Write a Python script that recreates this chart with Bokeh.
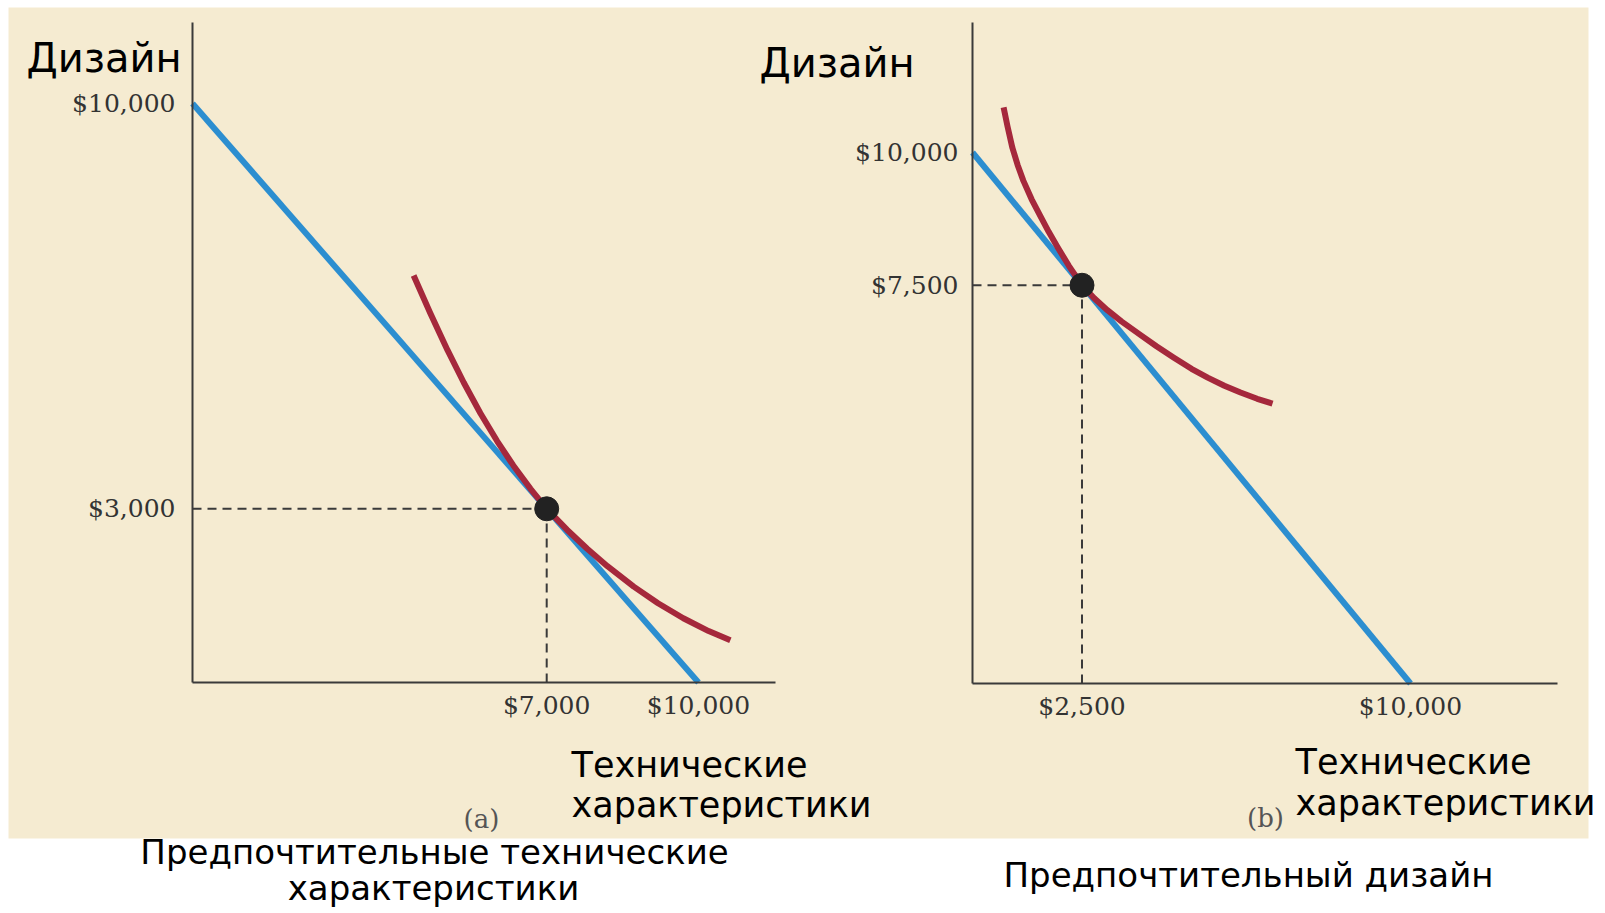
from bokeh.plotting import figure
from bokeh.models import (Range1d, FixedTicker, NumeralTickFormatter, Label,
                          LinearAxis, BoxAnnotation)
from bokeh.embed import file_html
from bokeh.resources import INLINE

# ---------------- data ----------------
# panel (a): preferred technical characteristics
budget_a_x = [0, 10000]
budget_a_y = [10000, 0]
curve_a_x = [4370, 4700, 5040, 5360, 5690, 6020, 6340, 6680, 7000, 7400, 7800,
             8200, 8720, 9200, 9700, 10200, 10630]
curve_a_y = [7030, 6378, 5740, 5181, 4651, 4170, 3749, 3345, 3000, 2639, 2310,
             2008, 1656, 1369, 1109, 888, 728]
opt_a_x = [7000]
opt_a_y = [3000]
xticks_a = [7000, 10000]
yticks_a = [3000, 10000]

# panel (b): preferred design
budget_b_x = [0, 10000]
budget_b_y = [10000, 0]
curve_b_x = [710, 800, 910, 1030, 1160, 1350, 1550, 1740, 1940, 2200, 2500, 2780,
             3080, 3400, 3840, 4200, 4590, 5000, 5370, 5750, 6120, 6500, 6850]
curve_b_y = [10850, 10490, 10090, 9766, 9470, 9118, 8800, 8506, 8220, 7866, 7500, 7254,
             7030, 6819, 6560, 6351, 6140, 5927, 5760, 5608, 5480, 5362, 5270]
opt_b_x = [2500]
opt_b_y = [7500]
xticks_b = [2500, 10000]
yticks_b = [7500, 10000]

y_title = "Дизайн"
x_title = ["Технические", "характеристики"]
panel_tags = ["(a)", "(b)"]
caption_a = ["Предпочтительные технические", "характеристики"]
caption_b = "Предпочтительный дизайн"

# ---------------- style / layout ----------------
W, H = 1600, 908
CREAM = "#f5ebd1"
BLUE = "#2c8ed0"
RED = "#a5283c"
AXIS = "#3a3a3a"
TICK = "#333333"
DOT = "#222222"
SANS = "DejaVu Sans"
SERIF = "DejaVu Serif"

# panel geometry in page pixels: axis origin, axis ends, pixels per dollar
A = dict(ox=192, oy=682, xe=775, ye=22, sx=0.0506, sy=0.0579)
B = dict(ox=972, oy=683, xe=1557, ye=22, sx=0.0438, sy=0.0531)


def xr(g):
    return Range1d(-g["ox"] / g["sx"], (W - g["ox"]) / g["sx"])


def yr(g):
    return Range1d(-(H - g["oy"]) / g["sy"], g["oy"] / g["sy"])


p = figure(width=W, height=H, x_range=xr(A), y_range=yr(A),
           output_backend="svg", toolbar_location=None,
           x_axis_type=None, y_axis_type=None, min_border=0)
p.extra_x_ranges = {"b": xr(B), "px": Range1d(0, W)}
p.extra_y_ranges = {"b": yr(B), "px": Range1d(H, 0)}
p.outline_line_color = None
p.grid.visible = False
p.background_fill_color = "white"
p.border_fill_color = "white"

# cream page of the scanned figure
p.add_layout(BoxAnnotation(left=8, right=1588, top=7, bottom=838,
                           x_range_name="px", y_range_name="px",
                           fill_color=CREAM, fill_alpha=1.0, line_color=None,
                           level="underlay"))


def style_axis(ax, ticks, stand):
    ax.ticker = FixedTicker(ticks=ticks)
    ax.formatter = NumeralTickFormatter(format="$0,0")
    ax.axis_line_color = AXIS
    ax.axis_line_width = 2
    ax.major_tick_line_color = None
    ax.minor_tick_line_color = None
    ax.major_tick_out = 0
    ax.major_tick_in = 0
    ax.major_label_standoff = stand
    ax.major_label_text_font = SERIF
    ax.major_label_text_font_size = "25px"
    ax.major_label_text_color = TICK


def panel(g, rn, bx, by, cx, cy, ox, oy, xt, yt, ystand):
    kw = {} if rn is None else dict(x_range_name=rn, y_range_name=rn)
    xa = LinearAxis(fixed_location=0, bounds=(0, (g["xe"] - g["ox"]) / g["sx"]), **kw)
    ya = LinearAxis(fixed_location=0, bounds=(0, (g["oy"] - g["ye"]) / g["sy"]), **kw)
    style_axis(xa, xt, 8)
    style_axis(ya, yt, ystand)
    p.add_layout(xa, "below")
    p.add_layout(ya, "left")
    p.line([0, ox[0]], [oy[0], oy[0]], line_color=AXIS, line_width=2, line_dash="9 6", **kw)
    p.line([ox[0], ox[0]], [0, oy[0]], line_color=AXIS, line_width=2, line_dash="9 6", **kw)
    p.line(bx, by, line_color=BLUE, line_width=6, **kw)
    p.line(cx, cy, line_color=RED, line_width=6, line_join="round", **kw)
    p.scatter(ox, oy, size=24, color=DOT, **kw)


panel(A, None, budget_a_x, budget_a_y, curve_a_x, curve_a_y, opt_a_x, opt_a_y,
      xticks_a, yticks_a, 17)
panel(B, "b", budget_b_x, budget_b_y, curve_b_x, curve_b_y, opt_b_x, opt_b_y,
      xticks_b, yticks_b, 14)


def label(x, y, text, font=SANS, size="36px", color="black", align="left"):
    p.add_layout(Label(x=x, y=y, text=text, x_range_name="px", y_range_name="px",
                       text_font=font, text_font_size=size, text_color=color,
                       text_align=align, text_baseline="alphabetic"))


# axis titles
label(26, 57, y_title, size="40px")
label(759, 62, y_title, size="40px")
label(571, 764, x_title[0], size="35px")
label(571, 804, x_title[1], size="35px")
label(1295, 761, x_title[0], size="35px")
label(1295, 802, x_title[1], size="35px")
# panel tags
label(481, 818, panel_tags[0], font=SERIF, size="26px", color="#555555", align="center")
label(1265, 817, panel_tags[1], font=SERIF, size="26px", color="#555555", align="center")
# captions
label(434, 851, caption_a[0], size="34px", align="center")
label(433, 887, caption_a[1], size="34px", align="center")
label(1248, 874, caption_b, size="34px", align="center")

open("out.html", "w").write(file_html(p, INLINE))
